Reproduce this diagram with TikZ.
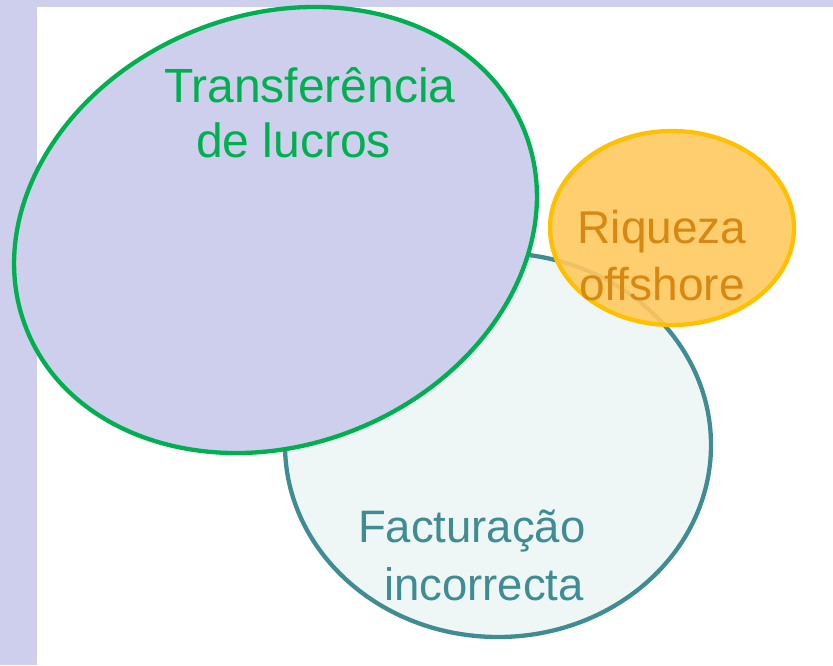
\documentclass[tikz,border=0pt]{standalone}
\usepackage{fontspec}
\setmainfont{Liberation Sans}
\usetikzlibrary{shapes.geometric}
\definecolor{lav}{RGB}{206,206,237}
\definecolor{grn}{RGB}{0,176,80}
\definecolor{tealline}{RGB}{63,140,146}
\definecolor{tealfill}{RGB}{239,247,246}
\definecolor{org}{RGB}{255,192,0}
\definecolor{orgfill}{RGB}{255,202,96}
\definecolor{orgtext}{RGB}{214,136,18}
\begin{document}
\begin{tikzpicture}[x=1pt,y=-1pt,
  blob/.style={ellipse, draw, line width=4.3pt, inner sep=0pt, outer sep=0pt},
  lbl/.style={inner sep=0pt, outer sep=0pt}]
\useasboundingbox (0,0) rectangle (833,665);
\fill[lav] (0,0) rectangle (833,665);
\fill[white] (37,7) rectangle (833,665);
% ellipses
\node[blob, draw=tealline, fill=tealfill, minimum width=426pt, minimum height=384pt] (fact) at (498,445) {};
\node[blob, draw=grn, fill=lav, minimum width=536pt, minimum height=430pt, rotate=21.7] (transf) at (275.5,230) {};
\node[blob, draw=org, fill=orgfill, fill opacity=0.9, minimum width=244pt, minimum height=194pt] (riq) at (672,228) {};
% labels (base anchor = baseline of the last line)
\node[lbl, anchor=base west, align=left, text=grn, font=\fontsize{48}{55}\selectfont] (transflbl) at (164,157)
  {Transferência\\\hspace*{32pt}de lucros};
\node[lbl, anchor=base, align=center, text=orgtext, font=\fontsize{46}{57}\selectfont] (riqlbl) at (662,300)
  {Riqueza\\offshore};
\node[lbl, anchor=base west, align=left, text=tealline, font=\fontsize{45.5}{58}\selectfont] (factlbl) at (358,600)
  {Facturação\\\hspace*{26pt}incorrecta};
\end{tikzpicture}
\end{document}
